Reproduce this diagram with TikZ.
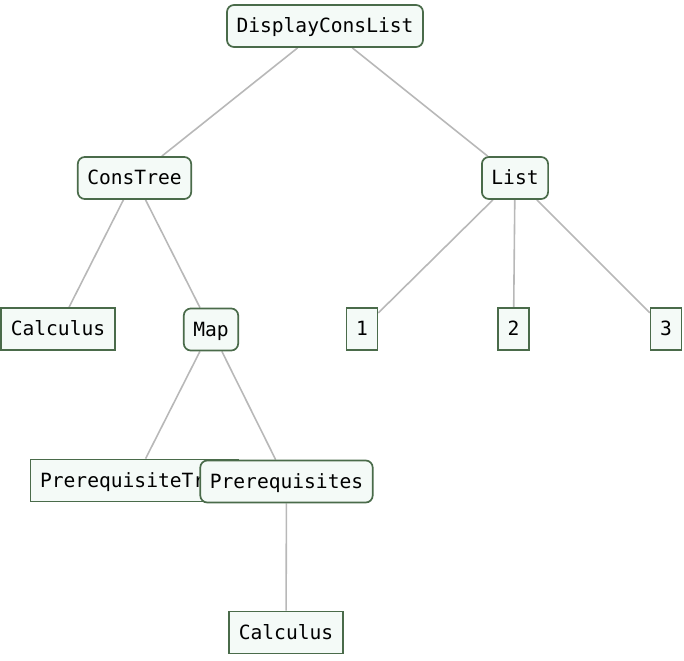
\documentclass[tikz,border=0pt]{standalone}
\usepackage{fontspec}
\setmonofont{DejaVu Sans Mono}
\usetikzlibrary{backgrounds}
\begin{document}
\begin{tikzpicture}[x=1pt,y=-1pt,
  base/.style={draw=boxgreen,fill=boxfill,line width=1.7pt,font=\ttfamily\fontsize{19.6}{22}\selectfont,
    minimum height=42pt,inner xsep=9.5pt,inner ysep=0pt,text height=14.5pt,text depth=1.5pt},
  inner/.style={base,rounded corners=7pt},
  leaf/.style={base},
  edge/.style={draw=edgegray,line width=1.6pt}]
\definecolor{boxgreen}{HTML}{4A6B4A}
\definecolor{boxfill}{HTML}{F4FAF7}
\definecolor{edgegray}{HTML}{B8B8B8}
\useasboundingbox (0,0) rectangle (684,660);
\node[inner] (dcl) at (325,26) {DisplayConsList};
\node[inner] (ct) at (134.5,178) {ConsTree};
\node[inner] (lst) at (515,178) {List};
\node[leaf] (calc1) at (58,329) {Calculus};
\node[inner] (map) at (211,329.5) {Map};
\node[leaf] (n1) at (362,329) {1};
\node[leaf] (n2) at (513.5,329) {2};
\node[leaf] (n3) at (666,329) {3};
\node[leaf] (pt) at (134.5,480.5) {PrerequisiteTree};
\node[inner] (pre) at (286.5,481.5) {Prerequisites};
\node[leaf] (calc2) at (286,632.5) {Calculus};
\begin{pgfonlayer}{background}
\path[edge] (dcl) -- (ct);
\path[edge] (dcl) -- (lst);
\path[edge] (ct) -- (calc1);
\path[edge] (ct) -- (map);
\path[edge] (lst) -- (n1);
\path[edge] (lst) -- (n2);
\path[edge] (lst) -- (n3);
\path[edge] (map) -- (pt);
\path[edge] (map) -- (pre);
\path[edge] (pre) -- (calc2);
\end{pgfonlayer}
\end{tikzpicture}
\end{document}
